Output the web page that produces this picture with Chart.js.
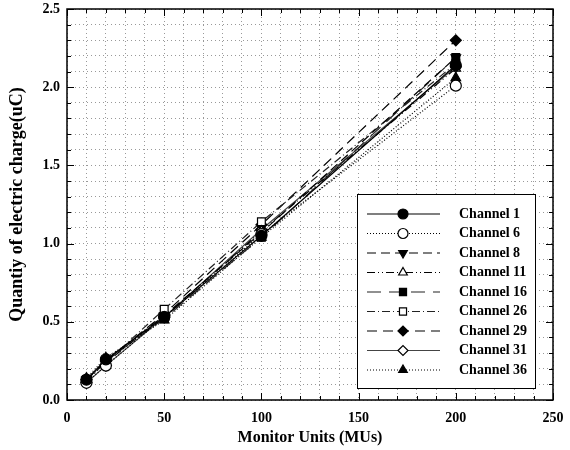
<!DOCTYPE html>
<html>
<head>
<meta charset="utf-8">
<script src="https://cdn.jsdelivr.net/npm/chart.js@4"></script>
<style>
  html, body { margin: 0; padding: 0; background: #fff; }
  #wrap { width: 570px; height: 450px; }
</style>
</head>
<body>
<div id="wrap"><canvas id="chart" width="570" height="450"></canvas></div>
<script>
// ================= DATA =================
const monitorUnits = [10, 20, 50, 100, 200];
const channelNames = ["Channel 1", "Channel 6", "Channel 8", "Channel 11", "Channel 16",
                      "Channel 26", "Channel 29", "Channel 31", "Channel 36"];
const ch1  = [0.13, 0.26, 0.53, 1.05, 2.14];
const ch6  = [0.11, 0.22, 0.53, 1.06, 2.01];
const ch8  = [0.13, 0.25, 0.54, 1.07, 2.19];
const ch11 = [0.12, 0.24, 0.53, 1.08, 2.12];
const ch16 = [0.13, 0.25, 0.52, 1.04, 2.19];
const ch26 = [0.13, 0.24, 0.58, 1.14, 2.15];
const ch29 = [0.13, 0.25, 0.55, 1.12, 2.30];
const ch31 = [0.11, 0.22, 0.53, 1.09, 2.13];
const ch36 = [0.14, 0.27, 0.51, 1.04, 2.06];
const xTicks = [0, 50, 100, 150, 200, 250];
const yTicks = [0.0, 0.5, 1.0, 1.5, 2.0, 2.5];

// ================= STYLES =================
const FONT = "'Liberation Serif', 'Times New Roman', serif";
const styles = [
  { data: ch1,  dash: [],                  color: "#000", point: "circle",   fill: "#000", rot: 0 },
  { data: ch6,  dash: [1, 2],              color: "#000", point: "circle",   fill: "#fff", rot: 0 },
  { data: ch8,  dash: [9, 5],              color: "#000", point: "triangle", fill: "#000", rot: 180 },
  { data: ch11, dash: [8, 3, 1, 3, 1, 3],  color: "#000", point: "triangle", fill: "#fff", rot: 0 },
  { data: ch16, dash: [14, 8],             color: "#222", point: "rect",     fill: "#000", rot: 0 },
  { data: ch26, dash: [8, 3, 1, 3],        color: "#222", point: "rect",     fill: "#fff", rot: 0 },
  { data: ch29, dash: [10, 6],             color: "#000", point: "rectRot",  fill: "#000", rot: 0 },
  { data: ch31, dash: [],                  color: "#444", point: "rectRot",  fill: "#fff", rot: 0 },
  { data: ch36, dash: [1, 2],              color: "#000", point: "triangle", fill: "#000", rot: 0 }
];

const datasets = styles.map((s, i) => ({
  label: channelNames[i],
  data: monitorUnits.map((x, j) => ({ x: x, y: s.data[j] })),
  borderColor: s.color,
  borderWidth: 1.2,
  borderDash: s.dash,
  pointStyle: s.point,
  pointRotation: s.rot,
  pointRadius: 5.5,
  pointBackgroundColor: s.fill,
  pointBorderColor: "#000",
  pointBorderWidth: 1.2,
  tension: 0,
  fill: false
}));

function isMajor(v, step) {
  return Math.abs(v / step - Math.round(v / step)) < 1e-6;
}

// fixed axis sizes, no label overflow padding
function fitX(scale) {
  scale.height = 50;
  scale.paddingLeft = 0; scale.paddingRight = 0;
  scale.paddingTop = 0; scale.paddingBottom = 0;
}
function fitY(scale) {
  scale.width = 62;
  scale.paddingLeft = 0; scale.paddingRight = 0;
  scale.paddingTop = 0; scale.paddingBottom = 0;
}

// ================= PLUGINS =================
// inward tick marks on all four sides
const innerTicks = {
  id: "innerTicks",
  afterDraw(chart) {
    const ctx = chart.ctx, a = chart.chartArea;
    const xs = chart.scales.x, ys = chart.scales.y;
    ctx.save();
    ctx.strokeStyle = "#000";
    ctx.lineWidth = 1;
    ctx.beginPath();
    xs.ticks.forEach(t => {
      const px = Math.round(xs.getPixelForValue(t.value)) + 0.5;
      const len = isMajor(t.value, 50) ? 7 : 4;
      ctx.moveTo(px, a.bottom); ctx.lineTo(px, a.bottom - len);
      ctx.moveTo(px, a.top); ctx.lineTo(px, a.top + len);
    });
    ys.ticks.forEach(t => {
      const py = Math.round(ys.getPixelForValue(t.value)) + 0.5;
      const len = isMajor(t.value, 0.5) ? 7 : 4;
      ctx.moveTo(a.left, py); ctx.lineTo(a.left + len, py);
      ctx.moveTo(a.right, py); ctx.lineTo(a.right - len, py);
    });
    ctx.stroke();
    ctx.lineWidth = 1.5;
    ctx.strokeRect(a.left, a.top, a.right - a.left, a.bottom - a.top);
    ctx.restore();
  }
};

// boxed legend inside the plot, lower right
const boxLegend = {
  id: "boxLegend",
  afterDraw(chart) {
    const ctx = chart.ctx, a = chart.chartArea;
    const boxL = a.right - 196, boxR = a.right - 18;
    const boxT = a.bottom - 206, boxB = a.bottom - 12;
    ctx.save();
    ctx.fillStyle = "#fff";
    ctx.fillRect(boxL, boxT, boxR - boxL, boxB - boxT);
    ctx.strokeStyle = "#000";
    ctx.lineWidth = 1;
    ctx.strokeRect(boxL + 0.5, boxT + 0.5, boxR - boxL, boxB - boxT);
    chart.data.datasets.forEach((ds, i) => {
      const y = boxT + 20 + i * 19.5;
      const x0 = boxL + 10, x1 = boxL + 83, mx = boxL + 46;
      ctx.strokeStyle = ds.borderColor;
      ctx.lineWidth = 1.2;
      ctx.setLineDash(ds.borderDash);
      ctx.beginPath();
      ctx.moveTo(x0, y); ctx.lineTo(x1, y);
      ctx.stroke();
      ctx.setLineDash([]);
      ctx.fillStyle = ds.pointBackgroundColor;
      ctx.strokeStyle = "#000";
      ctx.lineWidth = 1.2;
      Chart.helpers.drawPoint(ctx, {
        pointStyle: ds.pointStyle, rotation: ds.pointRotation,
        radius: 5, borderWidth: 1.2
      }, mx, y);
      ctx.fillStyle = "#000";
      ctx.font = "bold 14px " + FONT;
      ctx.textBaseline = "middle";
      ctx.textAlign = "left";
      ctx.fillText(ds.label, boxL + 102, y);
    });
    ctx.restore();
  }
};

// ================= CHART =================
new Chart(document.getElementById("chart"), {
  type: "line",
  data: { datasets: datasets },
  options: {
    responsive: false,
    animation: false,
    layout: { padding: { top: 9, right: 17, left: 5, bottom: 0 } },
    plugins: {
      legend: { display: false },
      tooltip: { enabled: false }
    },
    scales: {
      x: {
        type: "linear",
        min: xTicks[0],
        max: xTicks[xTicks.length - 1],
        afterFit: fitX,
        ticks: {
          stepSize: 10,
          autoSkip: false,
          maxRotation: 0,
          padding: 10,
          color: "#000",
          font: { family: FONT, size: 14, weight: "bold" },
          callback: v => isMajor(v, 50) ? String(v) : ""
        },
        grid: { color: "#999", lineWidth: 1, drawTicks: false, drawOnChartArea: true },
        border: { display: false, dash: [1, 3] },
        title: {
          display: true,
          text: "Monitor Units (MUs)",
          color: "#000",
          font: { family: FONT, size: 16, weight: "bold" },
          padding: { top: 0, bottom: 3 }
        }
      },
      y: {
        min: yTicks[0],
        max: yTicks[yTicks.length - 1],
        afterFit: fitY,
        ticks: {
          stepSize: 0.1,
          autoSkip: false,
          color: "#000",
          padding: 7,
          font: { family: FONT, size: 14, weight: "bold" },
          callback: v => isMajor(v, 0.5) ? Number(v).toFixed(1) : ""
        },
        grid: { color: "#999", lineWidth: 1, drawTicks: false, drawOnChartArea: true },
        border: { display: false, dash: [1, 3] },
        title: {
          display: true,
          text: "Quantiy of electric charge(uC)",
          color: "#000",
          font: { family: FONT, size: 18, weight: "bold" },
          padding: { top: 2, bottom: 0 }
        }
      }
    }
  },
  plugins: [innerTicks, boxLegend]
});
</script>
</body>
</html>
